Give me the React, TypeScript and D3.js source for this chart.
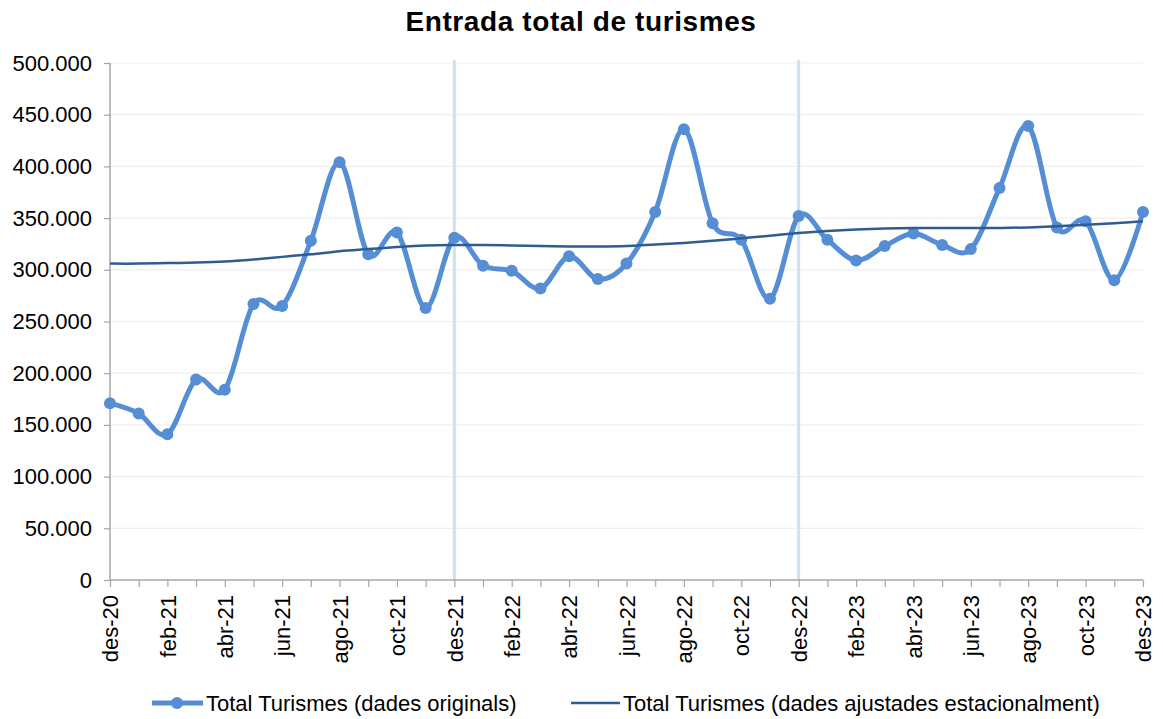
import * as d3 from "d3";
import { useEffect, useRef } from "react";

// Months from des-20 to des-23 (Catalan abbreviations)
const months = [
  "des-20", "gen-21", "feb-21", "mar-21", "abr-21", "mai-21", "jun-21", "jul-21", "ago-21", "set-21", "oct-21", "nov-21",
  "des-21", "gen-22", "feb-22", "mar-22", "abr-22", "mai-22", "jun-22", "jul-22", "ago-22", "set-22", "oct-22", "nov-22",
  "des-22", "gen-23", "feb-23", "mar-23", "abr-23", "mai-23", "jun-23", "jul-23", "ago-23", "set-23", "oct-23", "nov-23",
  "des-23",
];

const originals = [
  171000, 161000, 141000, 194000, 184000, 267000, 265000, 328000, 404000, 315000, 336000, 263000,
  331000, 304000, 299000, 282000, 313000, 291000, 306000, 356000, 436000, 345000, 329000, 272000,
  352000, 329000, 309000, 323000, 335000, 324000, 320000, 379000, 439000, 341000, 347000, 290000,
  356000,
];

const adjusted = [
  306000, 306000, 306500, 307000, 308000, 310000, 312500, 315000, 318000, 320000, 322000, 323500,
  324000, 324000, 323500, 323000, 322500, 322500, 323000, 324500, 326000, 328000, 330500, 333000,
  335500, 337500, 339000, 340000, 340500, 340500, 340500, 340500, 341000, 342000, 343500, 345000,
  347000,
];

const yTicks = [0, 50000, 100000, 150000, 200000, 250000, 300000, 350000, 400000, 450000, 500000];
const markerMonths = ["des-21", "des-22"];

const seriesNames = ["Total Turismes (dades originals)", "Total Turismes (dades ajustades estacionalment)"];

const W = 1163;
const H = 719;
const FONT = "Arial, 'Liberation Sans', sans-serif";

const fmt = d3.formatLocale({ decimal: ",", thousands: ".", grouping: [3], currency: ["", "€"] }).format(",d");

export default function App() {
  const ref = useRef<SVGSVGElement | null>(null);

  useEffect(() => {
    document.body.style.margin = "0";
    const svg = d3.select(ref.current);
    svg.selectAll("*").remove();

    const margin = { left: 110, right: 20, top: 63, bottom: 139 };
    const x = d3
      .scalePoint<string>()
      .domain(months)
      .range([margin.left, W - margin.right]);
    const y = d3
      .scaleLinear()
      .domain([0, 500000])
      .range([H - margin.bottom, margin.top]);

    svg.append("rect").attr("width", W).attr("height", H).attr("fill", "#fff");

    // title
    svg
      .append("text")
      .attr("x", 581)
      .attr("y", 31)
      .attr("text-anchor", "middle")
      .attr("font-family", FONT)
      .attr("font-weight", "bold")
      .attr("font-size", 28)
      .attr("letter-spacing", 0.6)
      .attr("fill", "#000")
      .text("Entrada total de turismes");

    // gridlines
    svg
      .append("g")
      .selectAll("line")
      .data(yTicks.filter((d) => d > 0))
      .join("line")
      .attr("x1", x.range()[0])
      .attr("x2", x.range()[1])
      .attr("y1", (d) => y(d))
      .attr("y2", (d) => y(d))
      .attr("stroke", "#efefef")
      .attr("stroke-width", 1.2);

    // vertical year markers
    svg
      .append("g")
      .selectAll("line")
      .data(markerMonths)
      .join("line")
      .attr("x1", (d) => x(d)!)
      .attr("x2", (d) => x(d)!)
      .attr("y1", y(500000) - 3)
      .attr("y2", y(0))
      .attr("stroke", "#d0e0f4")
      .attr("stroke-width", 3);

    // y axis
    const yAxis = svg
      .append("g")
      .attr("transform", `translate(${margin.left},0)`)
      .call(
        d3
          .axisLeft(y)
          .tickValues(yTicks)
          .tickSize(6)
          .tickPadding(12)
          .tickFormat((d) => fmt(d as number))
      );
    yAxis.select(".domain").attr("stroke", "#a6a6a6").attr("stroke-width", 1.5).attr("d", `M0,${y(0)}V${y(500000)}`);
    yAxis.selectAll(".tick line").attr("stroke", "#a6a6a6").attr("stroke-width", 1.2);
    yAxis.selectAll("text").attr("font-family", FONT).attr("font-size", 22).attr("fill", "#000");

    // x axis
    const xAxis = svg
      .append("g")
      .attr("transform", `translate(0,${y(0)})`)
      .call(
        d3
          .axisBottom(x)
          .tickSize(7)
          .tickPadding(15)
          .tickFormat((d, i) => (i % 2 === 0 ? d : ""))
      );
    xAxis.select(".domain").attr("stroke", "#a6a6a6").attr("stroke-width", 1.5).attr("d", `M${x.range()[0]},0H${x.range()[1]}`);
    xAxis.selectAll(".tick line").attr("stroke", "#a6a6a6").attr("stroke-width", 1.2);
    xAxis
      .selectAll<SVGTextElement, string>("text")
      .attr("font-family", FONT)
      .attr("font-size", 22)
      .attr("fill", "#000")
      .attr("text-anchor", "end")
      .attr("dy", "0.35em")
      .attr("transform", "rotate(-90)")
      .attr("x", -15)
      .attr("y", 0);

    const line = d3
      .line<number>()
      .x((_, i) => x(months[i])!)
      .y((d) => y(d))
      .curve(d3.curveCardinal.tension(0));

    // original series
    svg
      .append("path")
      .attr("d", line(originals))
      .attr("fill", "none")
      .attr("stroke", "#558ed5")
      .attr("stroke-width", 5)
      .attr("stroke-linejoin", "round");

    svg
      .append("g")
      .selectAll("circle")
      .data(originals)
      .join("circle")
      .attr("cx", (_, i) => x(months[i])!)
      .attr("cy", (d) => y(d))
      .attr("r", 6)
      .attr("fill", "#558ed5");

    // seasonally adjusted series
    svg
      .append("path")
      .attr("d", line(adjusted))
      .attr("fill", "none")
      .attr("stroke", "#2f5c91")
      .attr("stroke-width", 2.5);

    // legend
    const legY = 703;
    const leg = svg.append("g");
    leg.append("line").attr("x1", 152).attr("x2", 203).attr("y1", legY).attr("y2", legY).attr("stroke", "#558ed5").attr("stroke-width", 5);
    leg.append("circle").attr("cx", 177).attr("cy", legY).attr("r", 6).attr("fill", "#558ed5");
    leg
      .append("text")
      .attr("x", 206)
      .attr("y", legY)
      .attr("dy", "0.35em")
      .attr("font-family", FONT)
      .attr("font-size", 22)
      .attr("fill", "#000")
      .text(seriesNames[0]);
    leg.append("line").attr("x1", 571).attr("x2", 620).attr("y1", legY).attr("y2", legY).attr("stroke", "#2f5c91").attr("stroke-width", 2.5);
    leg
      .append("text")
      .attr("x", 623)
      .attr("y", legY)
      .attr("dy", "0.35em")
      .attr("font-family", FONT)
      .attr("font-size", 22)
      .attr("fill", "#000")
      .text(seriesNames[1]);
  }, []);

  return <svg ref={ref} width={W} height={H} style={{ display: "block" }} />;
}
